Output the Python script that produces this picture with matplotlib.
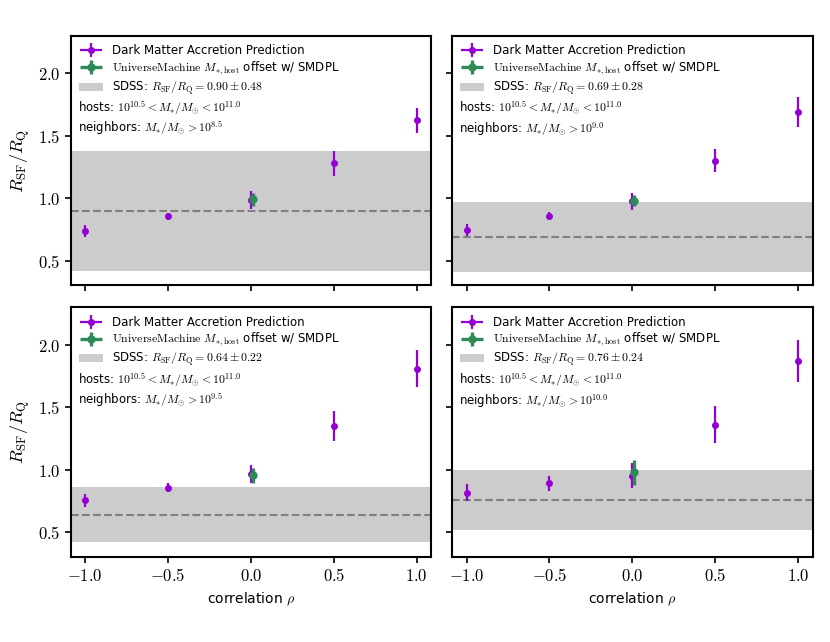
import matplotlib
matplotlib.use('Agg')
import matplotlib.pyplot as plt
from matplotlib.ticker import FuncFormatter, MultipleLocator
from matplotlib.legend_handler import HandlerErrorbar
from matplotlib.container import ErrorbarContainer

plt.rcParams['mathtext.fontset'] = 'cm'
plt.rcParams['font.family'] = 'DejaVu Sans'

rho = [-1.0, -0.5, 0.0, 0.5, 1.0]
rho_um = 0.01

# dark matter accretion prediction, one list per panel
dm_vals = [
    [0.738, 0.854, 0.984, 1.28, 1.624],
    [0.745, 0.857, 0.975, 1.30, 1.69],
    [0.754, 0.857, 0.966, 1.35, 1.81],
    [0.815, 0.89, 0.95, 1.36, 1.87],
]
dm_errs = [
    [0.05, 0.03, 0.07, 0.10, 0.10],
    [0.05, 0.03, 0.07, 0.09, 0.12],
    [0.05, 0.035, 0.07, 0.12, 0.15],
    [0.07, 0.06, 0.10, 0.15, 0.17],
]
um_vals = [0.99, 0.98, 0.955, 0.98]
um_errs = [0.05, 0.045, 0.06, 0.10]
sdss_mean = [0.90, 0.69, 0.64, 0.76]
sdss_err = [0.48, 0.28, 0.22, 0.24]
neighbor_exp = ['8.5', '9.0', '9.5', '10.0']

purple = '#9400d3'
green = '#2e8b57'

fig, axes = plt.subplots(2, 2, figsize=(8.3, 6.42), dpi=100, sharex=True, sharey=True)
fig.subplots_adjust(left=0.0852, right=0.979, top=0.944, bottom=0.1324,
                    wspace=0.058, hspace=0.088)

fmt = FuncFormatter(lambda v, p: '$%.1f$' % v)

for i, ax in enumerate(axes.flat):
    lo = sdss_mean[i] - sdss_err[i]
    hi = sdss_mean[i] + sdss_err[i]
    h1 = ax.errorbar(rho, dm_vals[i], yerr=dm_errs[i], xerr=0, fmt='o', color=purple,
                     ms=4, elinewidth=1.6, capsize=0, zorder=3,
                     label='Dark Matter Accretion Prediction')
    h2 = ax.errorbar([rho_um], [um_vals[i]], yerr=[um_errs[i]], xerr=0, fmt='o', color=green,
                     ms=5, elinewidth=2.4, capsize=0, zorder=4,
                     label=r'$\mathrm{UniverseMachine}$ $M_{*,\mathrm{host}}$ offset w/ SMDPL')
    h3 = ax.axhspan(lo, hi, color='#cccccc', lw=0, zorder=1,
                    label=r'SDSS: $R_{\rm SF}/R_{\rm Q} = %.2f \pm %.2f$' % (sdss_mean[i], sdss_err[i]))
    ax.axhline(sdss_mean[i], color='gray', ls='--', lw=1.5, zorder=2)

    ax.legend(handles=[h1, h2, h3], loc='upper left', frameon=False, fontsize=8.5,
              handlelength=2.0, borderaxespad=0.3, labelspacing=0.2,
              handler_map={ErrorbarContainer: HandlerErrorbar(xerr_size=0.95, yerr_size=0.6)})
    ax.text(0.02, 0.692, r'hosts: $10^{10.5} < M_{*}/M_{\odot} < 10^{11.0}$',
            transform=ax.transAxes, fontsize=8.5, va='baseline')
    ax.text(0.02, 0.612, r'neighbors: $M_{*}/M_{\odot} > 10^{%s}$' % neighbor_exp[i],
            transform=ax.transAxes, fontsize=8.5, va='baseline')

    ax.set_xlim(-1.087, 1.088)
    ax.set_ylim(0.3, 2.3)
    ax.xaxis.set_major_locator(MultipleLocator(0.5))
    ax.yaxis.set_major_locator(MultipleLocator(0.5))
    ax.xaxis.set_major_formatter(fmt)
    ax.yaxis.set_major_formatter(fmt)
    ax.tick_params(labelsize=12, width=1.2, length=4)
    for s in ax.spines.values():
        s.set_linewidth(1.5)

for ax in axes[:, 0]:
    ax.set_ylabel(r'$R_{\rm SF}/R_{\rm Q}$', fontsize=13)
for ax in axes[1, :]:
    ax.set_xlabel(r'correlation $\rho$', fontsize=10)

fig.savefig('out.png', dpi=100)
